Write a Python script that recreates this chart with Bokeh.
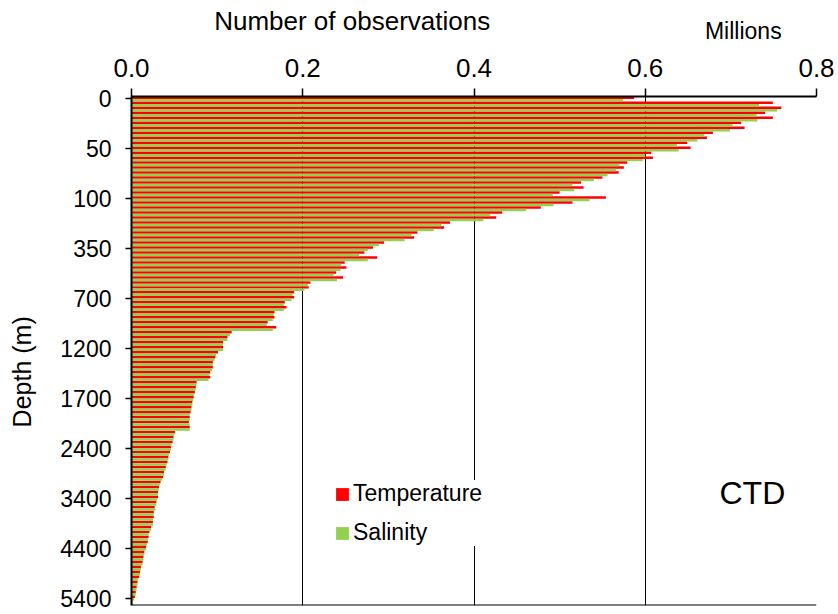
from bokeh.plotting import figure
from bokeh.layouts import column
from bokeh.models import (Range1d, FixedTicker, PrintfTickFormatter, Label, Legend,
                          LegendItem, Span, ColumnDataSource)
from bokeh.core.properties import value
from bokeh.transform import dodge
from bokeh.embed import file_html
from bokeh.resources import INLINE

# Standard depth levels (m)
depths = (list(range(0, 101, 5)) + list(range(125, 501, 25)) +
          list(range(550, 2001, 50)) + list(range(2100, 5501, 100)))

# Number of observations (millions)
temperature = [
    0.587, 0.749, 0.759, 0.740, 0.749, 0.712, 0.716, 0.679, 0.672, 0.649,
    0.653, 0.607, 0.609, 0.579, 0.575, 0.569, 0.550, 0.525, 0.528, 0.500,
    0.554, 0.515, 0.478, 0.433, 0.426, 0.372, 0.365, 0.334, 0.330, 0.295,
    0.282, 0.272, 0.287, 0.249, 0.251, 0.239, 0.247, 0.209, 0.207, 0.190,
    0.190, 0.179, 0.181, 0.167, 0.167, 0.159, 0.169, 0.117, 0.112, 0.107,
    0.107, 0.101, 0.098, 0.095, 0.095, 0.092, 0.092, 0.076, 0.075, 0.074,
    0.0726, 0.071, 0.070, 0.069, 0.068, 0.067, 0.068, 0.051, 0.049, 0.048,
    0.046, 0.045, 0.043, 0.042, 0.040, 0.038, 0.037, 0.034, 0.032, 0.031,
    0.031, 0.029, 0.027, 0.026, 0.026, 0.025, 0.023, 0.021, 0.020, 0.019,
    0.017, 0.015, 0.014, 0.013, 0.011, 0.010, 0.009, 0.007, 0.006, 0.005,
    0.004, 0.001,
]
salinity = [
    0.574, 0.733, 0.754, 0.730, 0.731, 0.702, 0.699, 0.669, 0.661, 0.637,
    0.639, 0.600, 0.597, 0.570, 0.566, 0.556, 0.540, 0.515, 0.517, 0.492,
    0.535, 0.493, 0.461, 0.419, 0.411, 0.362, 0.353, 0.327, 0.319, 0.289,
    0.276, 0.266, 0.276, 0.245, 0.244, 0.236, 0.240, 0.206, 0.202, 0.188,
    0.187, 0.178, 0.178, 0.166, 0.165, 0.158, 0.165, 0.115, 0.112, 0.107,
    0.107, 0.099, 0.097, 0.095, 0.094, 0.091, 0.090, 0.076, 0.075, 0.073,
    0.072, 0.071, 0.070, 0.068, 0.068, 0.068, 0.068, 0.050, 0.049, 0.047,
    0.046, 0.044, 0.043, 0.041, 0.040, 0.038, 0.036, 0.033, 0.032, 0.031,
    0.030, 0.029, 0.028, 0.026, 0.025, 0.025, 0.023, 0.020, 0.019, 0.018,
    0.017, 0.015, 0.014, 0.013, 0.011, 0.010, 0.008, 0.007, 0.006, 0.005,
    0.003, 0.0015,
]

x_ticks = [0.0, 0.2, 0.4, 0.6, 0.8]
label_every = 10

FONT = "Liberation Sans"
RED = "#FF0000"
GREEN = "#92D050"

W = 838
HEADER_H = 44
MAIN_H = 614 - HEADER_H
LEFT, RIGHT = 131, 22

n = len(depths)
idx = list(range(n))
src = ColumnDataSource(dict(idx=idx, temp=temperature, sal=salinity))

x_range = Range1d(0, 0.8)

# ---- header with the axis title and unit ----
hdr = figure(width=W, height=HEADER_H, output_backend="svg", toolbar_location=None,
             x_range=x_range, y_range=Range1d(HEADER_H, 0),
             x_axis_type=None, y_axis_type=None,
             min_border_left=LEFT, min_border_right=RIGHT,
             min_border_top=0, min_border_bottom=0)
hdr.outline_line_color = None
hdr.grid.visible = False
hdr.text(x=[0.2577], y=[20], text=["Number of observations"], text_align="center",
         text_baseline="middle", text_font=value(FONT), text_font_size="26px",
         text_color="black")
hdr.text(x=[0.7145], y=[30], text=["Millions"], text_align="center",
         text_baseline="middle", text_font=value(FONT), text_font_size="23px",
         text_color="black")

# ---- main chart ----
p = figure(width=W, height=MAIN_H, output_backend="svg", toolbar_location=None,
           x_range=x_range, y_range=Range1d(n - 0.5, -0.5),
           x_axis_location="above",
           min_border_left=LEFT, min_border_right=RIGHT,
           min_border_top=52, min_border_bottom=9)
p.outline_line_color = None
p.background_fill_color = "white"
p.border_fill_color = "white"

r_t = p.hbar(y=dodge("idx", -0.25, range=p.y_range), left=0, right="temp",
             height=0.5, fill_color=RED, line_color=None, source=src)
r_s = p.hbar(y=dodge("idx", 0.25, range=p.y_range), left=0, right="sal",
             height=0.5, fill_color=GREEN, line_color=None, source=src)

# x axis (top)
xa = p.xaxis[0]
xa.ticker = FixedTicker(ticks=x_ticks)
xa.formatter = PrintfTickFormatter(format="%.1f")
xa.major_tick_out = 8
xa.major_tick_in = 0
xa.minor_tick_line_color = None
xa.axis_line_width = 2
xa.major_tick_line_width = 1.5
xa.major_label_text_font = FONT
xa.major_label_text_font_size = "26px"
xa.major_label_text_color = "black"
xa.major_label_standoff = 12

# y axis (left)
ya = p.yaxis[0]
ticks_y = idx[::label_every]
ya.ticker = FixedTicker(ticks=ticks_y)
ya.major_label_overrides = {i: str(depths[i]) for i in ticks_y}
ya.major_tick_out = 6
ya.major_tick_in = 0
ya.minor_tick_line_color = None
ya.axis_line_width = 2
ya.major_tick_line_width = 1.5
ya.major_label_text_font = FONT
ya.major_label_text_font_size = "23px"
ya.major_label_text_color = "black"
ya.major_label_standoff = 14
# trailing non-breaking spaces shift the centred label toward the bottom, as in the original
ya.axis_label = "Depth (m)" + "\u00a0" * 6
ya.axis_label_text_font = FONT
ya.axis_label_text_font_size = "25px"
ya.axis_label_text_font_style = "normal"
ya.axis_label_text_color = "black"
ya.axis_label_standoff = 21

# grid
p.ygrid.visible = False
p.xgrid.ticker = FixedTicker(ticks=x_ticks[1:-1])
p.xgrid.grid_line_color = "black"
p.xgrid.grid_line_width = 1

p.add_layout(Span(location=n - 0.5, dimension="width", line_color="black", line_width=2))

p.add_layout(Label(x=0.7251, y=78.87, text="CTD", text_align="center",
                   text_baseline="middle", text_font=FONT, text_font_size="32px",
                   text_color="black"))

legend = Legend(items=[LegendItem(label="Temperature", renderers=[r_t]),
                       LegendItem(label="Salinity", renderers=[r_s])],
                location=(203, 59), orientation="vertical",
                label_text_font=FONT, label_text_font_size="23px", label_text_color="black",
                glyph_width=16, glyph_height=16, label_height=24, label_standoff=3,
                spacing=12, padding=9, margin=0,
                border_line_color=None, background_fill_color="white",
                background_fill_alpha=1.0)
p.add_layout(legend)

layout = column(hdr, p, spacing=0)
open("out.html", "w").write(file_html(layout, INLINE))
